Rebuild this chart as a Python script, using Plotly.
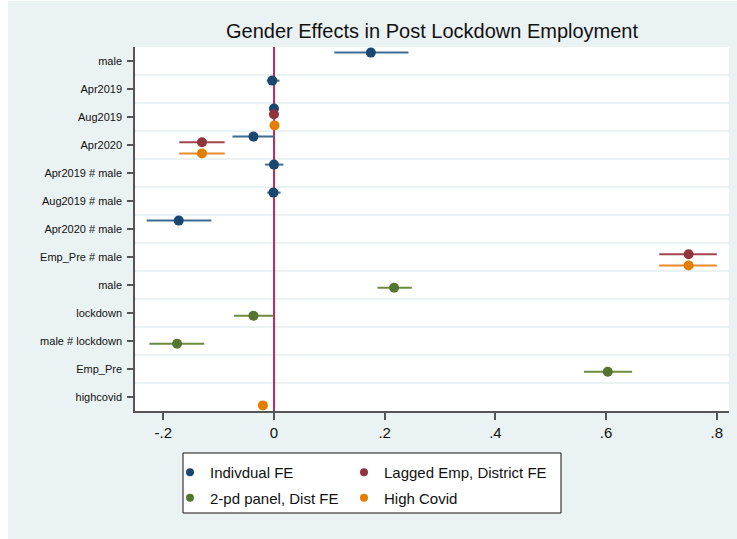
import plotly.graph_objects as go

# ---- data ----
row_labels = ["male", "Apr2019", "Aug2019", "Apr2020", "Apr2019 # male",
              "Aug2019 # male", "Apr2020 # male", "Emp_Pre # male", "male",
              "lockdown", "male # lockdown", "Emp_Pre", "highcovid"]

ind_rows = [1, 2, 3, 4, 5, 6, 7]
ind_coef = [0.175, -0.003, 0.000, -0.037, 0.000, -0.001, -0.172]
ind_lo = [0.109, -0.013, -0.005, -0.075, -0.016, -0.012, -0.230]
ind_hi = [0.243, 0.010, 0.005, 0.001, 0.017, 0.012, -0.113]

lag_rows = [3, 4, 8]
lag_coef = [0.000, -0.130, 0.749]
lag_lo = [-0.003, -0.171, 0.696]
lag_hi = [0.003, -0.089, 0.800]

pan_rows = [9, 10, 11, 12]
pan_coef = [0.217, -0.037, -0.175, 0.603]
pan_lo = [0.187, -0.072, -0.225, 0.560]
pan_hi = [0.249, -0.001, -0.126, 0.647]

cov_rows = [3, 4, 8, 13]
cov_coef = [0.001, -0.130, 0.749, -0.020]
cov_lo = [-0.003, -0.171, 0.696, -0.024]
cov_hi = [0.004, -0.089, 0.800, -0.016]

x_tickvals = [-0.2, 0, 0.2, 0.4, 0.6, 0.8]
x_ticktext = ["-.2", "0", ".2", ".4", ".6", ".8"]

# ---- styling ----
BG = "#eaf2f3"
FONT = "Liberation Sans, Arial, Helvetica, sans-serif"
W, H = 737, 539
ML, MR, MT, MB = 135, 8, 47, 128

series = [
    ("Indivdual FE", ind_rows, ind_coef, ind_lo, ind_hi, -0.3, "#1a476f", "#3f6b91", "legend"),
    ("Lagged Emp, District FE", lag_rows, lag_coef, lag_lo, lag_hi, -0.1, "#90353b", "#a0464c", "legend2"),
    ("2-pd panel, Dist FE", pan_rows, pan_coef, pan_lo, pan_hi, 0.1, "#55752f", "#6b8b45", "legend"),
    ("High Covid", cov_rows, cov_coef, cov_lo, cov_hi, 0.3, "#e37e00", "#e8892a", "legend2"),
]

fig = go.Figure()
for i, (name, rows, coef, lo, hi, off, mcol, lcol, leg) in enumerate(series):
    fig.add_trace(go.Scatter(
        x=coef, y=[r + off for r in rows], mode="markers",
        marker=dict(color=mcol, size=10, symbol="circle"),
        error_x=dict(type="data", symmetric=False,
                     array=[h - c for h, c in zip(hi, coef)],
                     arrayminus=[c - l for c, l in zip(coef, lo)],
                     color=lcol, thickness=2, width=0),
        showlegend=False, hoverinfo="skip"))
    # legend entry
    fig.add_trace(go.Scatter(
        x=[None], y=[None], mode="markers", name=name,
        marker=dict(color=mcol, size=8), legend=leg, legendgroup=name))

xr = [-0.251, 0.822]

def px2px(px):
    return (px - ML) / (W - ML - MR)

def py2py(py):
    return (H - MB - py) / (H - MT - MB)

fig.update_layout(
    width=W, height=H,
    margin=dict(l=ML, r=MR, t=MT, b=MB, pad=0),
    paper_bgcolor=BG, plot_bgcolor="white",
    font=dict(family=FONT, color="#111111"),
    title=dict(text="Gender Effects in Post Lockdown Employment",
               x=0.5, xref="paper", xanchor="center",
               y=1 - 31 / H, yref="container", yanchor="middle",
               font=dict(size=20, color="#111111", family=FONT)),
    xaxis=dict(range=xr, tickvals=x_tickvals, ticktext=x_ticktext,
               showgrid=False, zeroline=True, zerolinecolor="#c8285a",
               zerolinewidth=2, showline=True, linecolor="#555555",
               linewidth=1.5, ticks="outside", ticklen=7, tickwidth=1.5,
               tickcolor="#555555", tickfont=dict(size=15, color="#111111")),
    yaxis=dict(range=[13.5, 0.5], tickvals=list(range(1, 14)),
               ticktext=row_labels, showgrid=False, zeroline=False,
               showline=True, linecolor="#555555", linewidth=1.5,
               ticks="outside", ticklen=6, tickwidth=1.5, tickcolor="#555555",
               ticklabelstandoff=3,
               tickfont=dict(size=11, color="#111111"),
               minor=dict(tick0=0.5, dtick=1, showgrid=True,
                          gridcolor=BG, gridwidth=2)),
    legend=dict(orientation="v", x=px2px(170), xanchor="left",
                y=py2py(456), yanchor="top", bgcolor="rgba(0,0,0,0)",
                borderwidth=0, font=dict(size=15, family=FONT, color="#111111"),
                tracegroupgap=3),
    legend2=dict(orientation="v", x=px2px(344), xanchor="left",
                 y=py2py(456), yanchor="top", bgcolor="rgba(0,0,0,0)",
                 borderwidth=0, font=dict(size=15, family=FONT, color="#111111"),
                 tracegroupgap=3),
    shapes=[
        dict(type="rect", xref="paper", yref="paper",
             x0=px2px(183), x1=px2px(561), y0=py2py(513), y1=py2py(453),
             fillcolor="white", line=dict(color="#111111", width=1), layer="below"),
        dict(type="rect", xref="paper", yref="paper",
             x0=px2px(-2), x1=px2px(8), y0=py2py(H + 2), y1=py2py(-2),
             fillcolor="white", line=dict(width=0), layer="above"),
        dict(type="rect", xref="paper", yref="paper",
             x0=px2px(-2), x1=px2px(W + 2), y0=py2py(1), y1=py2py(-2),
             fillcolor="white", line=dict(width=0), layer="above"),
    ],
)

fig.write_html("out.html", config={"displayModeBar": False},
               post_script="document.body.style.margin='0';"
                           "document.body.style.overflow='hidden';")
